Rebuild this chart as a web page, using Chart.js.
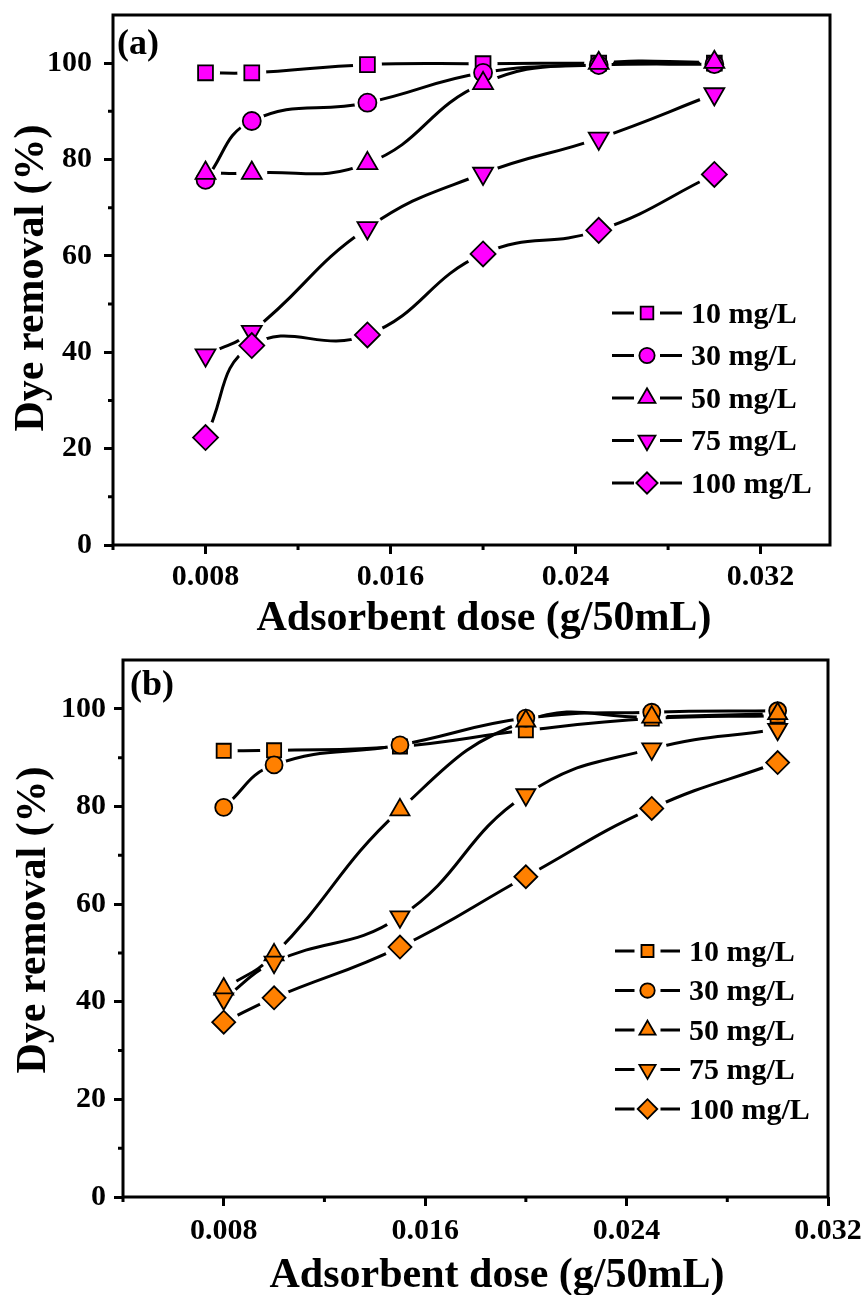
<!DOCTYPE html>
<html lang="en">
  <head>
    <meta charset="UTF-8" />
    <title>Dye removal vs adsorbent dose</title>
    <script src="https://cdn.jsdelivr.net/npm/chart.js"></script>
    <style>
      body { margin: 0; background: #fff; }
      .painel { position: absolute; left: 0; width: 865px; }
    </style>
  </head>
  <body>
    <div class="painel" style="top:0;height:640px">
      <canvas id="chartA" width="865" height="640"></canvas>
    </div>
    <div class="painel" style="top:640px;height:655px">
      <canvas id="chartB" width="865" height="655"></canvas>
    </div>

<script>
  // data
  const doses = [0.008, 0.010, 0.015, 0.020, 0.025, 0.030];
  const labels = ["10 mg/L", "30 mg/L", "50 mg/L", "75 mg/L", "100 mg/L"];

  const a10 = [98.0, 98.0, 99.7, 99.9, 100.0, 100.0];
  const a30 = [75.8, 88.0, 91.8, 98.0, 99.6, 99.8];
  const a50 = [77.2, 77.2, 79.2, 95.8, 100.0, 100.2];
  const a75 = [39.4, 44.3, 65.8, 77.1, 84.4, 93.6];
  const a100 = [22.3, 41.4, 43.6, 60.4, 65.3, 76.9];

  const b10 = [91.4, 91.5, 92.3, 95.6, 98.0, 98.6];
  const b30 = [79.8, 88.5, 92.6, 98.1, 99.3, 99.6];
  const b50 = [42.6, 49.6, 79.3, 97.5, 98.3, 99.0];
  const b75 = [40.6, 48.1, 57.4, 82.4, 91.8, 95.8];
  const b100 = [35.8, 40.8, 51.2, 65.6, 79.6, 89.0];

  const xTicks = [0.008, 0.016, 0.024, 0.032];
  const xMinorTicks = [0.004, 0.012, 0.020, 0.028];
  const yTicks = [0, 20, 40, 60, 80, 100];
  const yMinorTicks = [10, 30, 50, 70, 90];

  const fonte = '"Liberation Serif", "Times New Roman", serif';

  const estilos = [
    { pointStyle: "rect", rotation: 0 },
    { pointStyle: "circle", rotation: 0 },
    { pointStyle: "triangle", rotation: 0 },
    { pointStyle: "triangle", rotation: 180 },
    { pointStyle: "rectRot", rotation: 0 },
  ];

  // Origin style: the curve stops a little before each of its own markers
  const lacunaPlugin = {
    id: "lacuna",
    beforeDatasetDraw(chart, args) {
      const ds = chart.data.datasets[args.index];
      if (!ds.lacuna) return;
      const ctx = chart.ctx;
      const meta = args.meta;
      ctx.save();
      ctx.beginPath();
      ctx.rect(0, 0, chart.width, chart.height);
      meta.data.forEach(function (p) {
        ctx.moveTo(p.x + ds.lacuna, p.y);
        ctx.arc(p.x, p.y, ds.lacuna, 0, Math.PI * 2);
      });
      ctx.clip("evenodd");
    },
    afterDatasetDraw(chart, args) {
      const ds = chart.data.datasets[args.index];
      if (ds.lacuna) chart.ctx.restore();
    },
  };

  // frame, minor ticks, titles, panel letter and legend
  const molduraPlugin = {
    id: "moldura",
    afterDraw(chart, args, opts) {
      const ctx = chart.ctx;
      const area = chart.chartArea;
      const sx = chart.scales.x;
      const sy = chart.scales.y;
      ctx.save();

      ctx.strokeStyle = "#000";
      ctx.lineWidth = 3;
      ctx.strokeRect(area.left, area.top, area.right - area.left, area.bottom - area.top);

      ctx.beginPath();
      yMinorTicks.forEach(function (v) {
        const y = sy.getPixelForValue(v);
        ctx.moveTo(area.left, y);
        ctx.lineTo(area.left - 5, y);
      });
      xMinorTicks.forEach(function (v) {
        const x = sx.getPixelForValue(v);
        if (x < area.left - 1 || x > area.right + 1) return;
        ctx.moveTo(x, area.bottom);
        ctx.lineTo(x, area.bottom + 5);
      });
      ctx.stroke();

      ctx.fillStyle = "#000";
      ctx.textAlign = "left";
      ctx.textBaseline = "alphabetic";
      ctx.font = "bold 36px " + fonte;
      ctx.fillText(opts.letra, opts.letraX, opts.letraY);

      // axis titles
      ctx.font = "bold " + opts.tituloTam + "px " + fonte;
      ctx.textAlign = "center";
      ctx.fillText("Adsorbent dose (g/50mL)", opts.tituloX, opts.tituloXY);
      ctx.save();
      ctx.translate(opts.tituloYX, opts.tituloYY);
      ctx.rotate(-Math.PI / 2);
      ctx.fillText("Dye removal (%)", 0, 0);
      ctx.restore();

      // legend: line - marker - line
      const lg = opts.legenda;
      const cx = (lg.x0 + lg.x1) / 2;
      chart.data.datasets.forEach(function (ds) {
        if (ds.lacuna) return;
        const y = lg.top + ds.serie * lg.passo;
        ctx.strokeStyle = "#000";
        ctx.lineWidth = 3;
        ctx.beginPath();
        ctx.moveTo(lg.x0, y);
        ctx.lineTo(cx - 13, y);
        ctx.moveTo(cx + 13, y);
        ctx.lineTo(lg.x1, y);
        ctx.stroke();
        ctx.fillStyle = ds.pointBackgroundColor;
        ctx.lineWidth = 1.8;
        Chart.helpers.drawPoint(ctx, {
          pointStyle: ds.pointStyle,
          rotation: ds.rotation,
          radius: ds.pointRadius * 0.85,
          borderWidth: 1.8,
        }, cx, y);
        ctx.fillStyle = "#000";
        ctx.font = "bold 30px " + fonte;
        ctx.textAlign = "left";
        ctx.textBaseline = "middle";
        ctx.fillText(ds.label, lg.texto, y + 2);
      });

      ctx.restore();
    },
  };

  function criarGrafico(canvasId, series, cor, raios, cfg) {
    const datasets = [];
    series.forEach(function (valores, i) {
      const pontos = doses.map(function (d, j) { return { x: d, y: valores[j] }; });
      // the curve
      datasets.push({
        label: labels[i] + " curve",
        data: pontos,
        borderColor: "#000",
        borderWidth: 3,
        pointRadius: 0,
        tension: 0.45,
        fill: false,
        lacuna: raios[i] + 4,
        order: 20 - i,
      });
      // the markers
      datasets.push({
        label: labels[i],
        serie: i,
        data: pontos,
        showLine: false,
        backgroundColor: cor,
        pointBackgroundColor: cor,
        pointBorderColor: "#000",
        pointBorderWidth: 1.8,
        pointRadius: raios[i],
        pointStyle: estilos[i].pointStyle,
        rotation: estilos[i].rotation,
        order: series.length - 1 - i,
      });
    });

    const canvas = document.getElementById(canvasId);
    const W = canvas.width, H = canvas.height;

    return new Chart(canvas, {
      type: "line",
      data: { datasets: datasets },
      plugins: [lacunaPlugin, molduraPlugin],
      options: {
        responsive: false,
        animation: false,
        events: [],
        layout: {
          padding: { left: 0, top: cfg.area.top, right: W - cfg.area.right, bottom: 0 },
        },
        scales: {
          x: {
            type: "linear",
            min: 0.004,
            max: cfg.xMax,
            border: { display: false },
            grid: {
              drawOnChartArea: false,
              drawTicks: true,
              tickLength: 9,
              tickWidth: 3,
              tickColor: "#000",
            },
            afterBuildTicks: function (scale) {
              scale.ticks = xTicks.map(function (v) { return { value: v }; });
            },
            afterFit: function (scale) {
              scale.height = H - cfg.area.bottom;
              scale.paddingLeft = 0;
              scale.paddingRight = 0;
            },
            ticks: {
              color: "#000",
              padding: cfg.xPad,
              maxRotation: 0,
              font: { family: fonte, size: 30, weight: "bold" },
              callback: function (v) { return Number(v).toFixed(3); },
            },
          },
          y: {
            min: 0,
            max: 110,
            border: { display: false },
            grid: {
              drawOnChartArea: false,
              drawTicks: true,
              tickLength: 9,
              tickWidth: 3,
              tickColor: "#000",
            },
            afterBuildTicks: function (scale) {
              scale.ticks = yTicks.map(function (v) { return { value: v }; });
            },
            afterFit: function (scale) {
              scale.width = cfg.area.left;
              scale.paddingTop = 0;
              scale.paddingBottom = 0;
            },
            ticks: {
              color: "#000",
              padding: cfg.yPad,
              font: { family: fonte, size: 30, weight: "bold" },
              callback: function (v) { return String(v); },
            },
          },
        },
        plugins: {
          legend: { display: false },
          tooltip: { enabled: false },
          moldura: cfg.moldura,
        },
      },
    });
  }

  criarGrafico("chartA", [a10, a30, a50, a75, a100], "#ff00ff", [10.5, 9, 11.5, 11.5, 12.5], {
    area: { left: 113, top: 15, right: 830, bottom: 545 },
    xMax: 0.035,
    xPad: 5,
    yPad: 12,
    moldura: {
      letra: "(a)", letraX: 117, letraY: 54,
      tituloTam: 42, tituloX: 484, tituloXY: 630, tituloYX: 43, tituloYY: 278,
      legenda: { x0: 612, x1: 682, texto: 691, top: 313, passo: 42.5 },
    },
  });

  criarGrafico("chartB", [b10, b30, b50, b75, b100], "#ff8000", [10, 8.5, 11, 11, 11.5], {
    area: { left: 123, top: 20, right: 828, bottom: 557 },
    xMax: 0.032,
    xPad: 7,
    yPad: 8,
    moldura: {
      letra: "(b)", letraX: 130, letraY: 55,
      tituloTam: 42, tituloX: 497, tituloXY: 647, tituloYX: 45, tituloYY: 280,
      legenda: { x0: 615, x1: 680, texto: 689, top: 311, passo: 39.5 },
    },
  });
</script>
  </body>
</html>
